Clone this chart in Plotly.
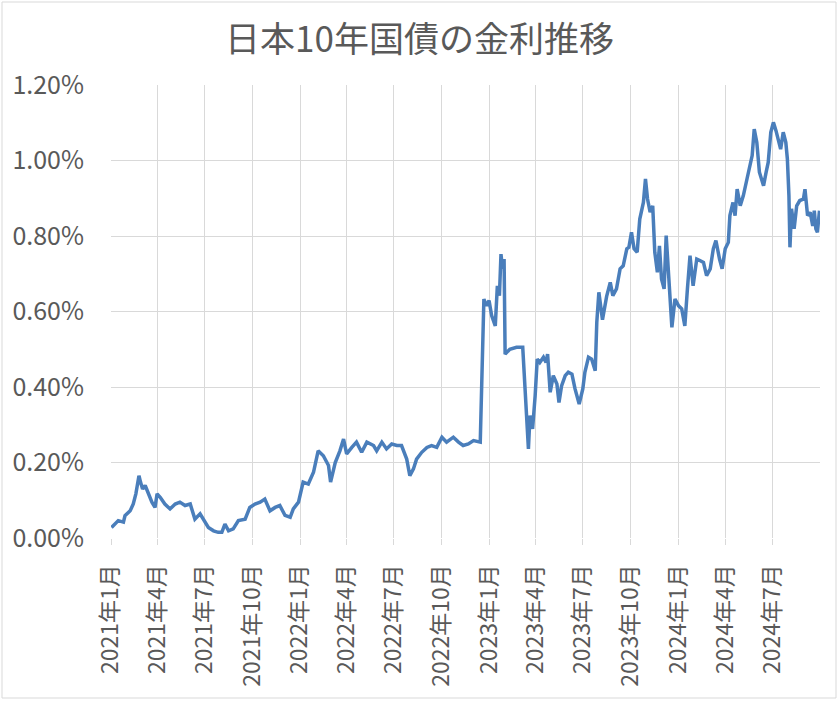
import pandas as pd
import plotly.graph_objects as go

# Days elapsed since 2021-01-01 for each reading, and 10Y JGB yield (%)
day_offsets = [
    1, 8, 14, 24, 27, 37, 43, 48, 54, 57, 61, 66, 72, 79, 85, 89, 95, 104, 114, 124,
    133, 143, 153, 162, 172, 181, 188, 198, 207, 214, 220, 227, 236, 246, 259, 268, 278, 288, 297, 307,
    317, 326, 336, 346, 352, 362, 371, 381, 391, 400, 410, 420, 424, 433, 442, 449, 455, 465, 474, 484,
    494, 507, 513, 523, 532, 542, 552, 561, 571, 577, 584, 590, 600, 610, 619, 629, 639, 648, 661, 671,
    680, 690, 700, 713, 716, 720, 725, 730, 735, 742, 746, 750, 753, 756, 759, 761, 770, 783, 795, 799,
    803, 806, 809, 814, 819, 823, 828, 835, 840, 843, 848, 854, 861, 865, 870, 877, 883, 890, 896, 904,
    911, 915, 922, 928, 935, 938, 942, 949, 957, 964, 969, 976, 983, 989, 996, 1000, 1005, 1010, 1016, 1021,
    1028, 1032, 1036, 1041, 1046, 1050, 1055, 1059, 1063, 1068, 1072, 1076, 1083, 1089, 1096, 1102, 1108, 1113, 1118, 1124,
    1131, 1137, 1144, 1150, 1157, 1163, 1168, 1175, 1180, 1186, 1192, 1195, 1201, 1205, 1209, 1215, 1221, 1228, 1234, 1238,
    1242, 1247, 1252, 1260, 1265, 1269, 1274, 1279, 1284, 1289, 1293, 1298, 1303, 1306, 1309, 1311, 1314, 1319, 1324, 1330,
    1337, 1340, 1345, 1350, 1355, 1358, 1361, 1364, 1368,
]
yield_pct = [
    0.028, 0.037, 0.046, 0.042, 0.059, 0.072, 0.090, 0.117, 0.165, 0.148, 0.130, 0.139, 0.117, 0.095, 0.081, 0.117, 0.108, 0.090, 0.077, 0.090,
    0.095, 0.086, 0.090, 0.050, 0.064, 0.046, 0.028, 0.019, 0.015, 0.015, 0.037, 0.019, 0.024, 0.046, 0.050, 0.081, 0.090, 0.095, 0.103, 0.072,
    0.081, 0.086, 0.060, 0.055, 0.077, 0.095, 0.148, 0.143, 0.174, 0.231, 0.218, 0.192, 0.148, 0.200, 0.231, 0.262, 0.223, 0.240, 0.254, 0.227,
    0.254, 0.245, 0.231, 0.254, 0.236, 0.249, 0.245, 0.245, 0.209, 0.165, 0.183, 0.209, 0.227, 0.240, 0.245, 0.240, 0.267, 0.254, 0.267, 0.254,
    0.245, 0.249, 0.258, 0.254, 0.430, 0.633, 0.615, 0.629, 0.589, 0.562, 0.668, 0.642, 0.752, 0.713, 0.739, 0.487, 0.500, 0.505, 0.505, 0.395,
    0.297, 0.236, 0.324, 0.289, 0.377, 0.474, 0.465, 0.479, 0.465, 0.487, 0.386, 0.430, 0.408, 0.359, 0.403, 0.430, 0.439, 0.434, 0.395, 0.355,
    0.395, 0.439, 0.479, 0.474, 0.443, 0.571, 0.651, 0.578, 0.640, 0.677, 0.642, 0.660, 0.713, 0.721, 0.766, 0.770, 0.810, 0.766, 0.757, 0.845,
    0.889, 0.951, 0.898, 0.863, 0.880, 0.757, 0.704, 0.774, 0.686, 0.660, 0.801, 0.713, 0.558, 0.633, 0.615, 0.607, 0.562, 0.660, 0.748, 0.668,
    0.739, 0.735, 0.730, 0.695, 0.713, 0.766, 0.788, 0.739, 0.713, 0.766, 0.783, 0.854, 0.889, 0.854, 0.924, 0.880, 0.907, 0.951, 0.995, 1.013,
    1.083, 1.048, 0.969, 0.933, 0.969, 0.995, 1.075, 1.101, 1.079, 1.048, 1.030, 1.075, 1.048, 1.004, 0.907, 0.770, 0.872, 0.819, 0.880, 0.894,
    0.898, 0.924, 0.854, 0.863, 0.827, 0.867, 0.819, 0.810, 0.867,
]

tick_dates = ["2021-01-01", "2021-04-01", "2021-07-01", "2021-10-01",
              "2022-01-01", "2022-04-01", "2022-07-01", "2022-10-01",
              "2023-01-01", "2023-04-01", "2023-07-01", "2023-10-01",
              "2024-01-01", "2024-04-01", "2024-07-01"]
tick_labels = ["2021年1月", "2021年4月", "2021年7月", "2021年10月",
               "2022年1月", "2022年4月", "2022年7月", "2022年10月",
               "2023年1月", "2023年4月", "2023年7月", "2023年10月",
               "2024年1月", "2024年4月", "2024年7月"]
y_ticks = [0.0, 0.2, 0.4, 0.6, 0.8, 1.0, 1.2]
y_labels = ["0.00%", "0.20%", "0.40%", "0.60%", "0.80%", "1.00%", "1.20%"]
title_text = "日本10年国債の金利推移"

dates = pd.Timestamp("2021-01-01") + pd.to_timedelta(day_offsets, unit="D")

FONT = "Noto Sans CJK JP"
GRAY = "#595959"
GRID = "#D9D9D9"

fig = go.Figure()
fig.add_trace(go.Scatter(
    x=dates, y=yield_pct, mode="lines",
    line=dict(color="#4A7EBB", width=3.5),
    showlegend=False, hoverinfo="skip",
))

fig.update_layout(
    width=839, height=702,
    margin=dict(l=111, r=19, t=85, b=164),
    paper_bgcolor="white", plot_bgcolor="white",
    font=dict(family=FONT, color=GRAY, size=23),
    title=dict(text=title_text, x=0.5, xanchor="center", xref="container",
               y=1 - 40 / 702, yanchor="middle", yref="container",
               font=dict(family=FONT, size=35, color=GRAY)),
    xaxis=dict(
        type="date", range=["2021-01-01", "2024-10-01"],
        tickvals=tick_dates, ticktext=tick_labels, tickangle=-90,
        showgrid=True, gridcolor=GRID, gridwidth=1,
        ticks="outside", ticklen=6, tickcolor=GRID,
        showline=False, zeroline=False,
        tickfont=dict(family=FONT, size=23, color=GRAY),
        ticklabelstandoff=10,
    ),
    yaxis=dict(
        range=[0, 1.2], tickvals=y_ticks, ticktext=y_labels,
        showgrid=True, gridcolor=GRID, gridwidth=1,
        showline=False, zeroline=False, ticks="",
        tickfont=dict(family=FONT, size=25, color=GRAY),
        ticklabelstandoff=26,
    ),
    shapes=[dict(type="rect", xref="paper", yref="paper",
                 x0=(2 - 111) / 709, x1=(836 - 111) / 709,
                 y0=(538 - 698) / 453, y1=(538 - 2) / 453,
                 line=dict(color=GRID, width=1), layer="below")],
)

fig.write_html("out.html")
